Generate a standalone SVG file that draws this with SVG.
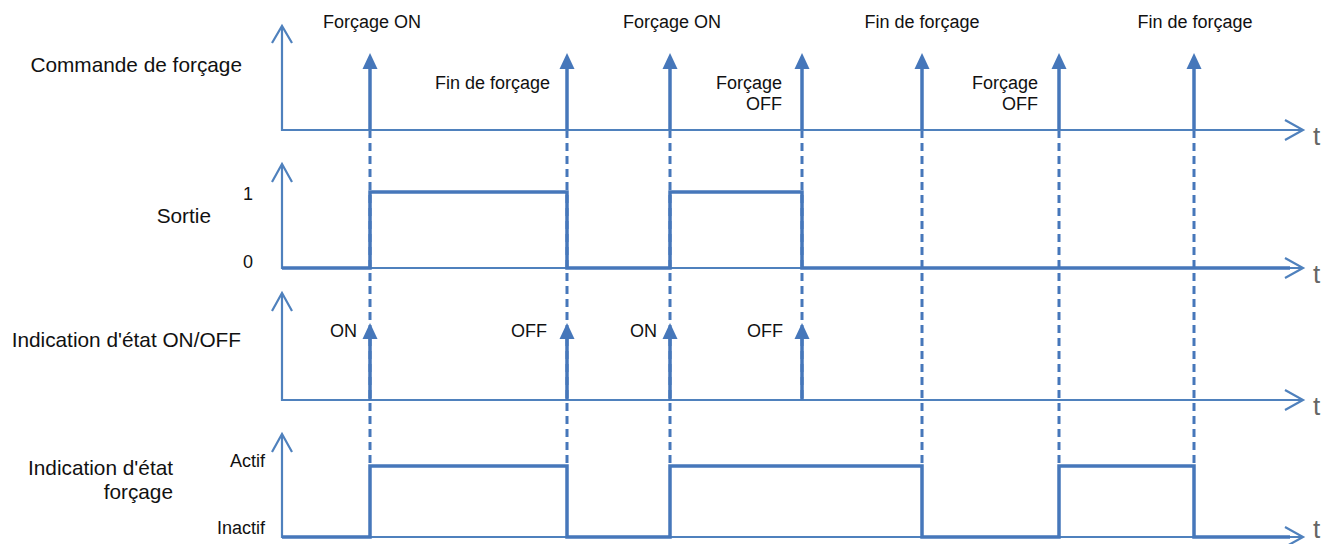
<svg xmlns="http://www.w3.org/2000/svg" width="1325" height="544" viewBox="0 0 1325 544">
<style>
.ax{fill:none;stroke:#4F81BD;stroke-width:2.2}
.ah{fill:none;stroke:#4F81BD;stroke-width:2.2;stroke-linejoin:miter}
.sig{fill:none;stroke:#4677BA;stroke-width:3.5;stroke-linejoin:miter}
.ev{fill:none;stroke:#4677BA;stroke-width:3.5}
.hd{fill:#4677BA}
.dash{fill:none;stroke:#4677BA;stroke-width:3;stroke-dasharray:8 5}
text{font-family:"Liberation Sans",Arial,Helvetica,sans-serif;fill:#111}
.lb{font-size:20.8px}
.sm{font-size:18px}
.t{font-size:26px;fill:#666}
</style>
<rect width="1325" height="544" fill="#fff"/>
<g id="connectors">
<line class="dash" x1="370" y1="130" x2="370" y2="466"/>
<line class="dash" x1="567" y1="130" x2="567" y2="466"/>
<line class="dash" x1="670" y1="130" x2="670" y2="466"/>
<line class="dash" x1="802" y1="130" x2="802" y2="400"/>
<line class="dash" x1="922" y1="130" x2="922" y2="466"/>
<line class="dash" x1="1059" y1="130" x2="1059" y2="466"/>
<line class="dash" x1="1194" y1="130" x2="1194" y2="466"/>
</g>
<g id="row-commande">
<polyline class="ax" points="282,27 282,130 1302,130"/>
<polyline class="ah" points="272,43 282,26 292,43"/>
<polyline class="ah" points="1285,120 1303,130 1285,140"/>
<text class="t" x="1313" y="145">t</text>
<text class="lb" x="242" y="72" text-anchor="end">Commande de forçage</text>
</g>
<g id="cmd-events">
<g id="ev1"><line class="ev" x1="370" y1="130" x2="370" y2="66"/><polygon class="hd" points="362.5,69 370,53 377.5,69"/><text class="sm" x="372" y="28" text-anchor="middle">Forçage ON</text></g>
<g id="ev2"><line class="ev" x1="567" y1="130" x2="567" y2="66"/><polygon class="hd" points="559.5,69 567,53 574.5,69"/><text class="sm" x="550" y="89" text-anchor="end">Fin de forçage</text></g>
<g id="ev3"><line class="ev" x1="670" y1="130" x2="670" y2="66"/><polygon class="hd" points="662.5,69 670,53 677.5,69"/><text class="sm" x="672" y="28" text-anchor="middle">Forçage ON</text></g>
<g id="ev4"><line class="ev" x1="802" y1="130" x2="802" y2="66"/><polygon class="hd" points="794.5,69 802,53 809.5,69"/><text class="sm" x="782" y="89" text-anchor="end">Forçage</text><text class="sm" x="782" y="110" text-anchor="end">OFF</text></g>
<g id="ev5"><line class="ev" x1="922" y1="130" x2="922" y2="66"/><polygon class="hd" points="914.5,69 922,53 929.5,69"/><text class="sm" x="922" y="28" text-anchor="middle">Fin de forçage</text></g>
<g id="ev6"><line class="ev" x1="1059" y1="130" x2="1059" y2="66"/><polygon class="hd" points="1051.5,69 1059,53 1066.5,69"/><text class="sm" x="1038" y="89" text-anchor="end">Forçage</text><text class="sm" x="1038" y="110" text-anchor="end">OFF</text></g>
<g id="ev7"><line class="ev" x1="1194" y1="130" x2="1194" y2="66"/><polygon class="hd" points="1186.5,69 1194,53 1201.5,69"/><text class="sm" x="1195" y="28" text-anchor="middle">Fin de forçage</text></g>
</g>
<g id="row-sortie">
<polyline class="ax" points="282,165 282,268 1302,268"/>
<polyline class="ah" points="272,182 282,164 292,182"/>
<polyline class="ah" points="1285,258 1303,268 1285,278"/>
<text class="t" x="1313" y="283">t</text>
<polyline class="sig" points="282,268 370,268 370,192 567,192 567,268 670,268 670,192 802,192 802,268 1290,268"/>
<text class="lb" x="211" y="223" text-anchor="end">Sortie</text>
<text class="sm" x="253" y="200" text-anchor="end">1</text>
<text class="sm" x="253" y="268" text-anchor="end">0</text>
</g>
<g id="row-onoff">
<polyline class="ax" points="282,294 282,400 1302,400"/>
<polyline class="ah" points="272,311 282,293 292,311"/>
<polyline class="ah" points="1285,390 1303,400 1285,410"/>
<text class="t" x="1313" y="415">t</text>
<text class="lb" x="241" y="347" text-anchor="end">Indication d'état ON/OFF</text>
<g id="st1"><line class="ev" x1="370" y1="400" x2="370" y2="336"/><polygon class="hd" points="362.5,339 370,323 377.5,339"/><text class="sm" x="357" y="337" text-anchor="end">ON</text></g>
<g id="st2"><line class="ev" x1="567" y1="400" x2="567" y2="336"/><polygon class="hd" points="559.5,339 567,323 574.5,339"/><text class="sm" x="547" y="337" text-anchor="end">OFF</text></g>
<g id="st3"><line class="ev" x1="670" y1="400" x2="670" y2="336"/><polygon class="hd" points="662.5,339 670,323 677.5,339"/><text class="sm" x="657" y="337" text-anchor="end">ON</text></g>
<g id="st4"><line class="ev" x1="802" y1="400" x2="802" y2="336"/><polygon class="hd" points="794.5,339 802,323 809.5,339"/><text class="sm" x="783" y="337" text-anchor="end">OFF</text></g>
</g>
<g id="row-forcage">
<polyline class="ax" points="282,435 282,537 1302,537"/>
<polyline class="ah" points="272,452 282,434 292,452"/>
<polyline class="ah" points="1285,527 1303,537 1285,547"/>
<text class="t" x="1313" y="538">t</text>
<polyline class="sig" points="282,537 370,537 370,466 567,466 567,537 670,537 670,466 922,466 922,537 1059,537 1059,466 1194,466 1194,537 1290,537"/>
<text class="lb" x="173" y="475" text-anchor="end">Indication d'état</text>
<text class="lb" x="173" y="499" text-anchor="end">forçage</text>
<text class="sm" x="265" y="467" text-anchor="end">Actif</text>
<text class="sm" x="265" y="534" text-anchor="end">Inactif</text>
</g>
</svg>
